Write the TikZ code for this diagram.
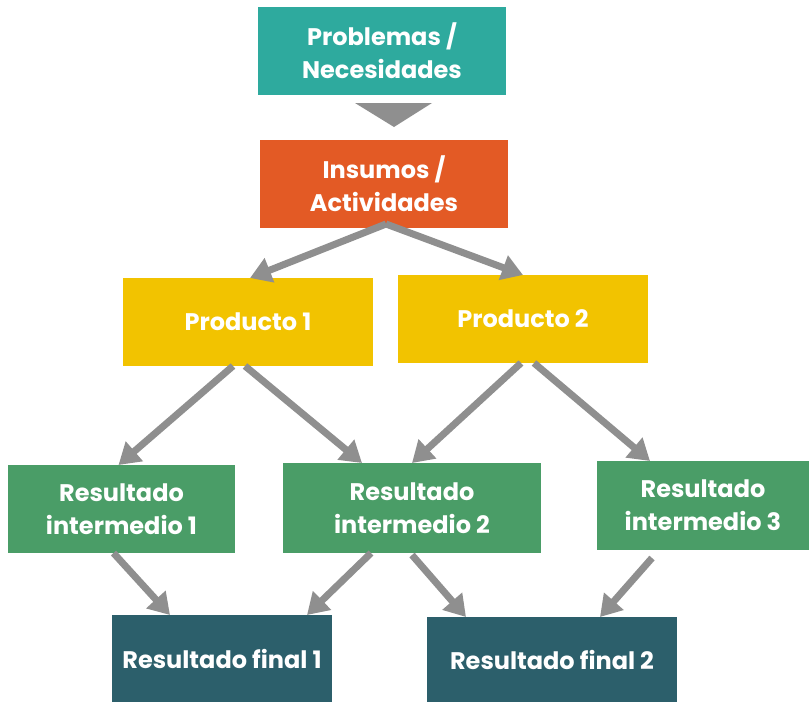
\documentclass[tikz,border=0pt]{standalone}
\usepackage{fontspec}
\setmainfont{Poppins}
\usetikzlibrary{arrows.meta,calc}
\definecolor{tealbox}{RGB}{46,170,158}
\definecolor{orangebox}{RGB}{227,90,37}
\definecolor{yellowbox}{RGB}{242,195,0}
\definecolor{greenbox}{RGB}{74,157,103}
\definecolor{darkbox}{RGB}{44,95,107}
\definecolor{arrowgray}{RGB}{143,143,143}
\begin{document}
\begin{tikzpicture}[x=1pt, y=-1pt,
  box/.style={text=white, font=\fontsize{24}{33}\selectfont\bfseries, align=center,
    inner sep=0pt, outer sep=0pt},
  flow/.style={draw=arrowgray, line width=7pt, -{Triangle[length=21pt, width=25pt]}}]

\useasboundingbox (0,0) rectangle (809,702);

\node[box, fill=tealbox, minimum width=248pt, minimum height=88pt] (prob) at (382,51) {Problemas /\\Necesidades};
\node[box, fill=orangebox, minimum width=248pt, minimum height=88pt] (ins) at (384,184) {Insumos /\\Actividades};

\node[box, fill=yellowbox, minimum width=250pt, minimum height=88pt] (prod1) at (248,322) {Producto 1};
\node[box, fill=yellowbox, minimum width=250pt, minimum height=88pt] (prod2) at (523,319) {Producto 2};

\node[box, fill=greenbox, minimum width=227pt, minimum height=88pt] (inter1) at (121.5,509) {Resultado\\intermedio 1};
\node[box, fill=greenbox, minimum width=258pt, minimum height=90pt] (inter2) at (412,508) {Resultado\\intermedio 2};
\node[box, fill=greenbox, minimum width=212pt, minimum height=89pt] (inter3) at (703,505.5) {Resultado\\intermedio 3};

\node[box, fill=darkbox, minimum width=220pt, minimum height=87pt] (final1) at (222,658.5) {Resultado final 1};
\node[box, fill=darkbox, minimum width=250pt, minimum height=85pt] (final2) at (552,659.5) {Resultado final 2};

% big triangle between the first two boxes
\fill[arrowgray] ($(prob.south)+(-27,8)$) -- ($(prob.south)+(50,8)$) -- ($(prob.south)+(12,32)$) -- cycle;

\draw[flow] ($(ins.south)+(2,-4)$) -- ($(prod1.north)+(2,0)$);
\draw[flow] ($(ins.south)+(2,-4)$) -- (prod2.north);

\draw[flow] ($(prod1.south)+(-15,0)$) -- ($(inter1.north)+(-3,0)$);
\draw[flow] ($(prod1.south)+(-3,0)$) -- ($(inter2.north)+(-50,0)$);
\draw[flow] ($(prod2.south)+(-2,0)$) -- (inter2.north);
\draw[flow] ($(prod2.south)+(11,0)$) -- ($(inter3.north)+(-53,0)$);

\draw[flow] ($(inter1.south)+(-8,0)$) -- ($(final1.north)+(-52,0)$);
\draw[flow] ($(inter2.south)+(-41,0)$) -- ($(final1.north)+(85,0)$);
\draw[flow] ($(inter2.south)+(0,2)$) -- ($(final2.north)+(-86,0)$);
\draw[flow] ($(inter3.south)+(-51,8)$) -- ($(final2.north)+(48,0)$);

\end{tikzpicture}
\end{document}
